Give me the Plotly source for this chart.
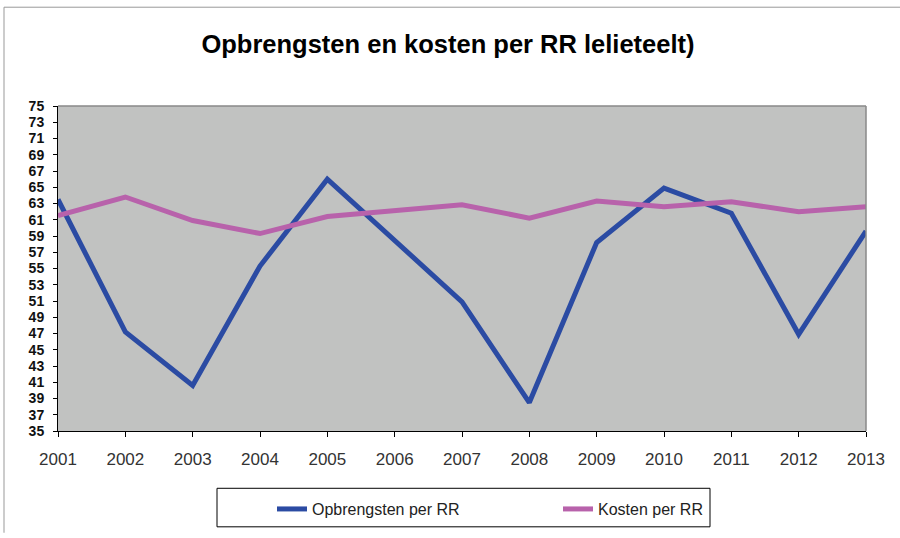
import plotly.graph_objects as go

years = list(range(2001, 2014))
opbrengsten = [63.5, 47.2, 40.6, 55.3, 66.0, 58.4, 50.9, 38.5, 58.2, 64.9, 61.8, 46.9, 59.6]
kosten = [61.5, 63.8, 60.9, 59.3, 61.4, 62.2, 62.85, 61.2, 63.3, 62.6, 63.2, 62.0, 62.6]
y_ticks = list(range(35, 76, 2))

W, H = 900, 538
L, R, T, B = 58, 34, 106, 103
pw, ph = W - L - R, H - T - B

def px(x):
    return (x - L) / pw

def py(y):
    return (H - B - y) / ph

fig = go.Figure()
fig.add_trace(go.Scatter(x=years, y=opbrengsten, mode="lines", name="Opbrengsten per RR",
                         line=dict(color="#2B4BA3", width=5)))
fig.add_trace(go.Scatter(x=years, y=kosten, mode="lines", name="Kosten per RR",
                         line=dict(color="#B862AB", width=5)))

fig.update_layout(
    width=W, height=H,
    margin=dict(l=L, r=R, t=T, b=B),
    paper_bgcolor="white",
    plot_bgcolor="#C1C2C1",
    font=dict(family="Liberation Sans, Arial", color="black"),
    title=dict(text="<b>Opbrengsten en kosten per RR lelieteelt)</b>",
               xref="container", x=448 / W, xanchor="center",
               yref="container", y=1 - 44 / H, yanchor="middle",
               font=dict(size=25.5, color="black")),
    showlegend=True,
    legend=dict(orientation="h", x=px(272), y=py(514), xanchor="left", yanchor="middle",
                bgcolor="rgba(0,0,0,0)", borderwidth=0,
                entrywidth=241, entrywidthmode="pixels",
                font=dict(size=16, color="#222")),
    xaxis=dict(range=[2001, 2013], tickmode="array", tickvals=years,
               ticktext=[str(y) for y in years], showgrid=False, zeroline=False,
               showline=True, linecolor="black", linewidth=1,
               ticks="outside", ticklen=5, tickcolor="black", ticklabelstandoff=8,
               tickfont=dict(size=17, color="#333")),
    yaxis=dict(range=[35, 75], tickmode="array", tickvals=y_ticks,
               ticktext=["<b>%d</b>" % v for v in y_ticks],
               showgrid=False, zeroline=False, showline=True, linecolor="black", linewidth=1,
               ticks="outside", ticklen=4, tickcolor="black", ticklabelstandoff=6,
               tickfont=dict(size=14, color="#111")),
    shapes=[
        dict(type="line", xref="paper", yref="paper", x0=0, x1=1, y0=1, y1=1,
             line=dict(color="#888", width=1.5)),
        dict(type="line", xref="paper", yref="paper", x0=1, x1=1, y0=0, y1=1,
             line=dict(color="#888", width=1.5)),
        dict(type="line", xref="paper", yref="paper", x0=px(4), x1=px(W), y0=py(6), y1=py(6),
             line=dict(color="#999", width=1)),
        dict(type="line", xref="paper", yref="paper", x0=px(4), x1=px(4), y0=py(6), y1=py(H),
             line=dict(color="#999", width=1)),
        dict(type="rect", xref="paper", yref="paper", x0=px(217), x1=px(710), y0=py(493), y1=py(532),
             line=dict(color="black", width=1), fillcolor="rgba(0,0,0,0)"),
    ],
)

fig.write_html("out.html", config={"displayModeBar": False},
               post_script="document.body.style.margin='0';document.body.style.overflow='hidden';")
